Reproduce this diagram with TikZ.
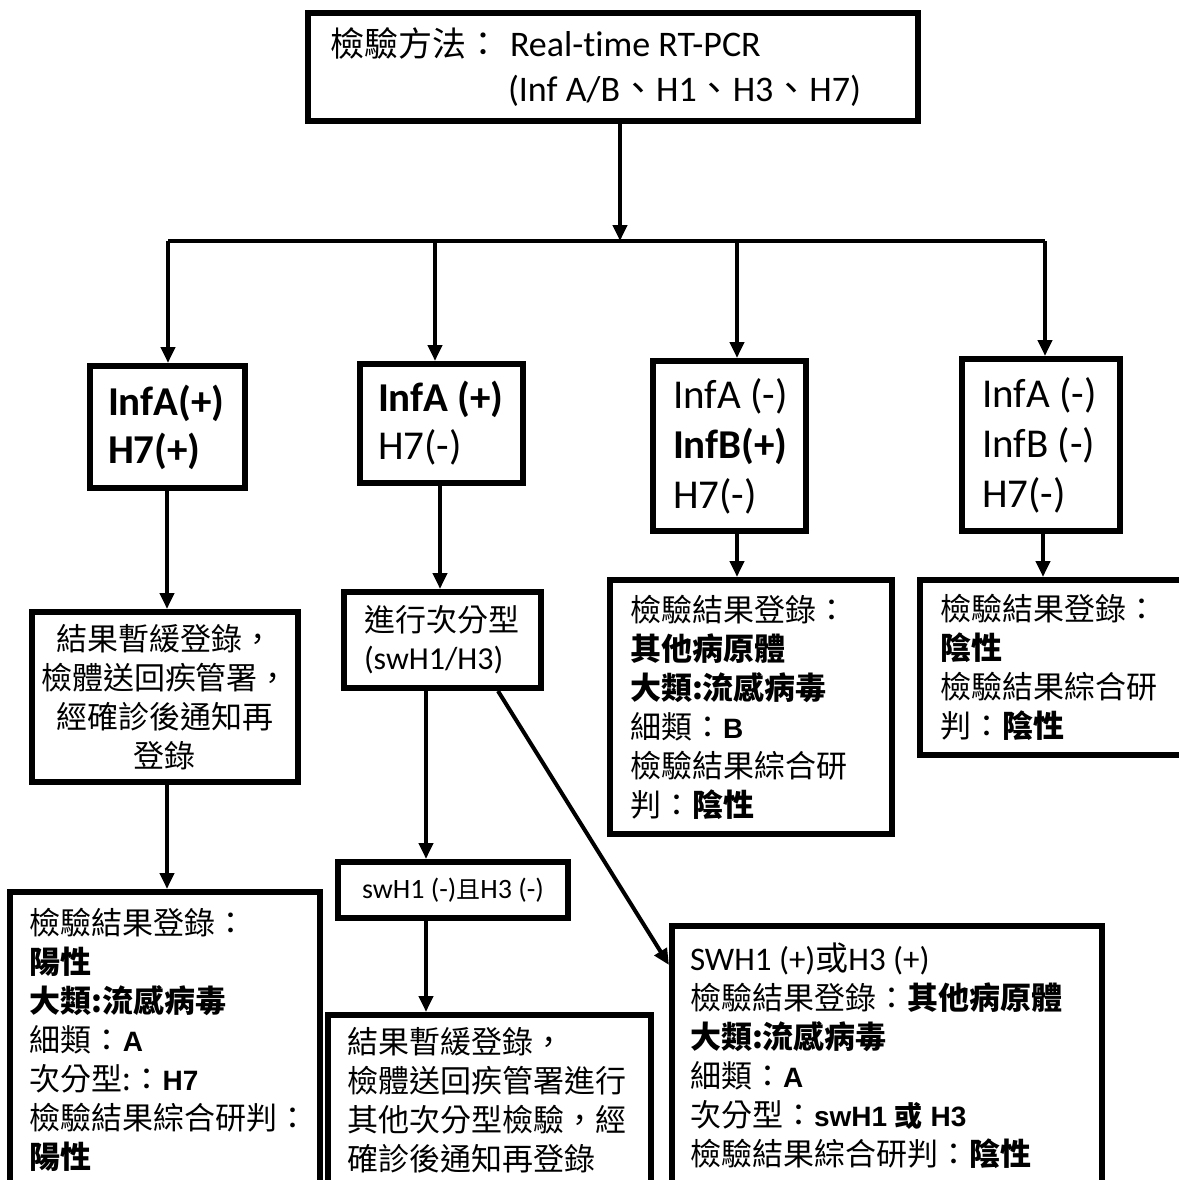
\documentclass[tikz,border=0pt]{standalone}
\usepackage{fontspec}
\setmainfont{Carlito}[Ligatures=CommonOff]
\newfontfamily\cjk{Noto Sans CJK TC}
\newfontfamily\arialf{Liberation Sans}
\newcommand\zh[1]{{\cjk #1}}
\newcommand\zhb[1]{{\cjk\bfseries #1}}
\newcommand\ab[1]{{\arialf\bfseries\fontsize{14}{14}\selectfont #1}}
\usetikzlibrary{arrows.meta}
\tikzset{
  box/.style={draw, line width=3pt, rectangle, inner ysep=0pt, align=flush left},
  arr/.style={line width=2pt, -{Triangle[width=7pt,length=8pt]}},
  ln/.style={line width=2pt},
  cjkbody/.style={font=\fontsize{15.5}{19.5}\selectfont},
  bigtxt/.style={font=\fontsize{20.5}{24}\selectfont}
}
\begin{document}
\begin{tikzpicture}[x=0.5pt,y=-0.5pt]
\useasboundingbox (0,0) rectangle (1179,1180);
\clip (0,0) rectangle (1179,1180);
% top
\node[box, inner xsep=11pt, text width=283pt, minimum height=54pt, font=\fontsize{18}{22.5}\selectfont] (top) at (613,67)
 {\mbox{{\cjk\fontsize{17}{22.5}\selectfont 檢驗方法：}\hspace{5pt}Real-time RT-PCR}\\
  \mbox{\hphantom{{\cjk\fontsize{17}{22.5}\selectfont 檢驗方法：}}\hspace{4pt}(Inf A/B\zh{、}H1\zh{、}H3\zh{、}H7)}};
% level 1
\node[box, bigtxt, inner xsep=9pt, text width=59.5pt, minimum height=61pt] (b1) at (167.5,427) {\mbox{\textbf{InfA(+)}}\\\mbox{\textbf{H7(+)}}};
\node[box, bigtxt, inner xsep=9pt, text width=63.5pt, minimum height=59.5pt] (b2) at (441.5,423.5) {\mbox{\textbf{InfA (+)}}\\\mbox{H7(-)}};
\node[box, font=\fontsize{20.5}{25}\selectfont, inner xsep=10pt, text width=56.5pt, minimum height=85pt] (b3) at (729.5,446) {\mbox{InfA (-)}\\\mbox{\textbf{InfB(+)}}\\\mbox{H7(-)}};
\node[box, font=\fontsize{20.5}{25}\selectfont, inner xsep=10pt, text width=59pt, minimum height=86pt] (b4) at (1041,445) {\mbox{InfA (-)}\\\mbox{InfB (-)}\\\mbox{H7(-)}};
% junctions
\coordinate (j) at (620,241);
\coordinate (j1) at (168,241);
\coordinate (j2) at (435,241);
\coordinate (j3) at (737,241);
\coordinate (j4) at (1045,241);
\draw[arr] (top.south -| j) -- (j);
\draw[ln] (j1) -- (j4);
\draw[arr] (j1) -- (j1 |- b1.north);
\draw[arr] (j2) -- (j2 |- b2.north);
\draw[arr] (j3) -- (j3 |- b3.north);
\draw[arr] (j4) -- (j4 |- b4.north);
% level 2
\node[box, cjkbody, align=flush center, inner xsep=4pt, text width=125pt, minimum height=85pt] (b5) at (165,697)
 {\zh{結果暫緩登錄，}\\\zh{檢體送回疾管署，}\\\zh{經確診後通知再}\\\zh{登錄}};
\node[box, cjkbody, inner xsep=10pt, text width=135pt, minimum height=148pt] (b6) at (165,1040)
 {\zh{檢驗結果登錄：}\\\zhb{陽性}\\\zhb{大類:流感病毒}\\\zh{細類：}\ab{A}\\\zh{次分型:：}\ab{H7}\\\zh{檢驗結果綜合研判：}\\\zhb{陽性}};
\node[box, inner xsep=10pt, text width=78.5pt, minimum height=48pt, font=\fontsize{16}{19}\selectfont] (b7) at (442.5,640)
 {{\cjk\fontsize{15.5}{19}\selectfont 進行次分型}\\\mbox{(swH1/H3)}};
\node[box, inner xsep=4pt, text width=107pt, align=flush center, minimum height=28pt, font=\fontsize{14}{16}\selectfont] (b8) at (453,890)
 {\mbox{swH1 (-){\cjk\fontsize{12}{14}\selectfont 且}H3 (-)}};
\node[box, cjkbody, inner xsep=9.5pt, text width=142.5pt, minimum height=85pt] (b9) at (489.5,1100)
 {\zh{結果暫緩登錄，}\\\zh{檢體送回疾管署進行}\\\zh{其他次分型檢驗，經}\\\zh{確診後通知再登錄}};
\node[box, cjkbody, inner xsep=9pt, text width=197pt, minimum height=129.5pt] (b10) at (887,1055.5)
 {\mbox{{\fontsize{16.5}{19.5}\selectfont SWH1 (+)\zh{或}H3 (+)}}\\\zh{檢驗結果登錄：}\zhb{其他病原體}\\\zhb{大類:流感病毒}\\\zh{細類：}\ab{A}\\\mbox{\zh{次分型：}\ab{swH1 {\cjk 或} H3}}\\\zh{檢驗結果綜合研判：}\zhb{陰性}};
\node[box, cjkbody, inner xsep=10pt, text width=121pt, minimum height=127pt] (b11) at (751,707)
 {\zh{檢驗結果登錄：}\\\zhb{其他病原體}\\\zhb{大類:流感病毒}\\\zh{細類：}\ab{B}\\\zh{檢驗結果綜合研}\\\zh{判：}\zhb{陰性}};
\node[box, cjkbody, inner xsep=10pt, text width=120pt, minimum height=87.5pt] (b12) at (1060,667.5)
 {\zh{檢驗結果登錄：}\\\zhb{陰性}\\\zh{檢驗結果綜合研}\\\zh{判：}\zhb{陰性}};
% connectors
\coordinate (k1) at (167,0);
\coordinate (k2) at (440,0);
\coordinate (k3) at (426,0);
\coordinate (k4) at (737,0);
\coordinate (k5) at (1043,0);
\coordinate (d1) at (498,688);
\coordinate (d2) at (669,965);
\draw[arr] (b1.south -| k1) -- (b5.north -| k1);
\draw[arr] (b5.south -| k1) -- (b6.north -| k1);
\draw[arr] (b2.south -| k2) -- (b7.north -| k2);
\draw[arr] (b7.south -| k3) -- (b8.north -| k3);
\draw[arr] (b8.south -| k3) -- (b9.north -| k3);
\draw[arr] (b7.south -| d1) -- (d2);
\draw[arr] (b3.south -| k4) -- (b11.north -| k4);
\draw[arr] (b4.south -| k5) -- (b12.north -| k5);
\end{tikzpicture}
\end{document}
